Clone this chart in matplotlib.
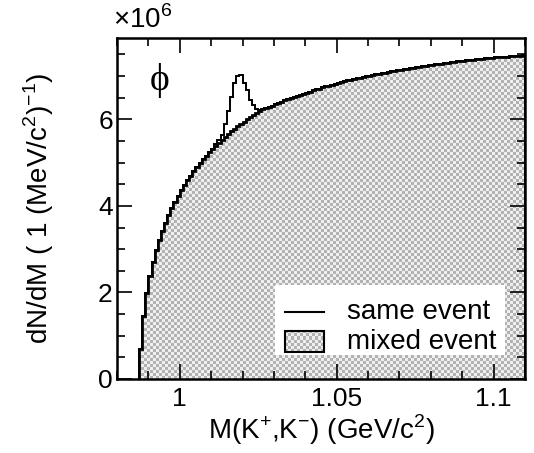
import numpy as np
import matplotlib
matplotlib.use('Agg')
import matplotlib.pyplot as plt
from matplotlib.patches import Rectangle

plt.rcParams['font.family'] = ['Liberation Sans', 'DejaVu Sans']
plt.rcParams['mathtext.fontset'] = 'custom'
plt.rcParams['mathtext.rm'] = 'Liberation Sans'

# K+K- invariant mass, 1 MeV bins starting at threshold (units of 10^6)
first_edge = 0.987
bin_width = 0.001

mixed_event = [
    0.70, 1.45, 1.98, 2.38, 2.70, 2.97, 3.21, 3.42, 3.61, 3.78,
    3.94, 4.09, 4.23, 4.36, 4.48, 4.59, 4.70, 4.80, 4.90, 4.99,
    5.08, 5.16, 5.24, 5.32, 5.39, 5.46, 5.53, 5.60, 5.66, 5.72,
    5.78, 5.84, 5.90, 5.95, 6.00, 6.05, 6.10, 6.15, 6.19, 6.23,
    6.26, 6.29, 6.32, 6.35, 6.38, 6.41, 6.44, 6.46, 6.49, 6.52,
    6.54, 6.57, 6.59, 6.62, 6.64, 6.67, 6.69, 6.71, 6.74, 6.76,
    6.78, 6.80, 6.82, 6.84, 6.86, 6.88, 6.90, 6.91, 6.93, 6.95,
    6.96, 6.98, 7.00, 7.01, 7.02, 7.04, 7.05, 7.07, 7.08, 7.09,
    7.11, 7.12, 7.13, 7.14, 7.16, 7.17, 7.18, 7.19, 7.20, 7.21,
    7.23, 7.24, 7.25, 7.26, 7.27, 7.28, 7.29, 7.30, 7.31, 7.32,
    7.33, 7.34, 7.35, 7.36, 7.37, 7.37, 7.38, 7.39, 7.40, 7.40,
    7.41, 7.42, 7.42, 7.43, 7.44, 7.44, 7.45, 7.45, 7.46, 7.46,
    7.47, 7.47, 7.48]

# same event differs from mixed only around the phi peak (bins 24-38)
phi_bins = [5.42, 5.53, 5.65, 5.90, 6.20, 6.52, 6.83, 7.00, 7.02,
            6.83, 6.67, 6.44, 6.33, 6.25, 6.21]
same_event = mixed_event[:24] + phi_bins + mixed_event[39:]

edges = first_edge + bin_width * np.arange(len(mixed_event) + 1)

fig = plt.figure(figsize=(5.34, 4.53), dpi=100)
ax = fig.add_axes([0.2191, 0.1634, 0.764, 0.7527])

xmin, xmax, ymin, ymax = 0.98, 1.11, 0, 7.88

# checkered fill like ROOT fill style
def checker(rows, cols):
    c = np.add.outer(np.arange(rows), np.arange(cols)) % 2
    g = np.where(c == 1, 0.94, 0.70)
    return np.dstack([g, g, g])

fill = ax.stairs(mixed_event, edges, baseline=0, fill=True,
                 facecolor='none', edgecolor='none')
im = ax.imshow(checker(114, 136), extent=[xmin, xmax, ymin, ymax],
               aspect='auto', interpolation='nearest', zorder=1)
im.set_clip_path(fill)

ax.stairs(mixed_event, edges, baseline=0, color='black', lw=2.0, zorder=2)
ax.stairs(same_event, edges, baseline=0, color='black', lw=1.4, zorder=3)

ax.set_xlim(xmin, xmax)
ax.set_ylim(ymin, ymax)

ax.set_xticks([1.0, 1.05, 1.1])
ax.set_xticklabels(['1', '1.05', '1.1'])
ax.set_xticks(np.arange(0.98, 1.111, 0.01), minor=True)
ax.set_yticks([0, 2, 4, 6])
ax.set_yticks(np.arange(0, 7.9, 0.5), minor=True)
ax.tick_params(which='both', direction='in', top=True, right=True,
               labelsize=19, width=1.2)
ax.tick_params(which='major', length=11)
ax.tick_params(which='minor', length=6)
ax.tick_params(axis='x', pad=6)
ax.tick_params(axis='y', pad=3)
for s in ax.spines.values():
    s.set_linewidth(1.8)

ax.set_xlabel(r'M(K$^{+}$,K$^{-}$) (GeV/c$^{2}$)', fontsize=20, labelpad=1)
ax.set_ylabel(r'dN/dM ( 1 (MeV/c$^{2}$)$^{-1}$)', fontsize=20, labelpad=30)

fig.text(0.212, 0.925, r'$\times$10$^{6}$', fontsize=20, ha='left', va='bottom')
ax.text(0.105, 0.875, 'ϕ', transform=ax.transAxes, fontsize=27,
        family=['Liberation Serif', 'DejaVu Serif'], ha='center', va='center')

# legend
ax.add_patch(Rectangle((0.387, 0.070), 0.564, 0.206, transform=ax.transAxes,
                       facecolor='white', edgecolor='none', zorder=4))
ax.plot([0.412, 0.507], [0.196, 0.196], transform=ax.transAxes,
        color='black', lw=1.5, zorder=5)
box = Rectangle((0.412, 0.079), 0.095, 0.062, transform=ax.transAxes,
                facecolor='none', edgecolor='black', lw=1.5, zorder=6)
ax.add_patch(box)
lim = ax.imshow(checker(114, 136), extent=[xmin, xmax, ymin, ymax],
                aspect='auto', interpolation='nearest', zorder=5)
lim.set_clip_path(box)
ax.set_xlim(xmin, xmax)
ax.set_ylim(ymin, ymax)
ax.text(0.564, 0.196, 'same event', transform=ax.transAxes, fontsize=20,
        va='center', ha='left', zorder=6)
ax.text(0.564, 0.109, 'mixed event', transform=ax.transAxes, fontsize=20,
        va='center', ha='left', zorder=6)

fig.savefig('out.png', dpi=100)
